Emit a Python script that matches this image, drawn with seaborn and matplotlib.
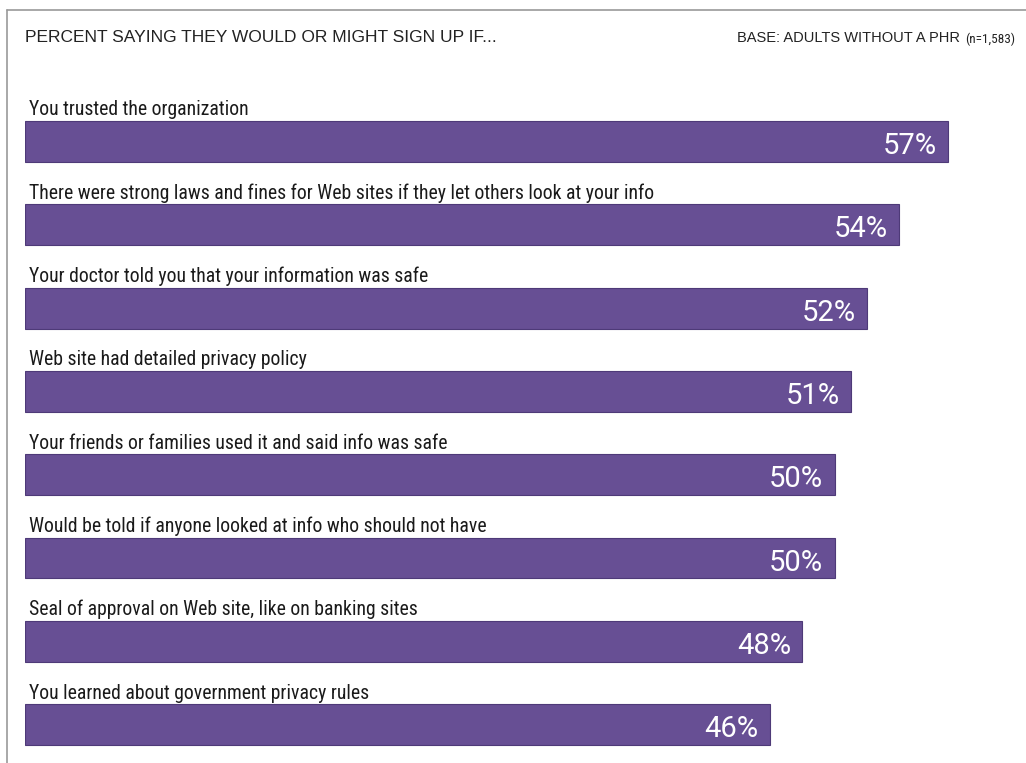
import matplotlib
matplotlib.use("Agg")
import matplotlib.pyplot as plt
import seaborn as sns
import pandas as pd
from matplotlib.lines import Line2D

# data
statements = [
    "You trusted the organization",
    "There were strong laws and fines for Web sites if they let others look at your info",
    "Your doctor told you that your information was safe",
    "Web site had detailed privacy policy",
    "Your friends or families used it and said info was safe",
    "Would be told if anyone looked at info who should not have",
    "Seal of approval on Web site, like on banking sites",
    "You learned about government privacy rules",
]
percents = [57, 54, 52, 51, 50, 50, 48, 46]
title_left = "PERCENT SAYING THEY WOULD OR MIGHT SIGN UP IF..."
title_right = "BASE: ADULTS WITHOUT A PHR"
base_n = "(n=1,583)"

sns.set_theme(style="white")
plt.rcParams['font.family'] = ['Roboto Condensed', 'Roboto', 'DejaVu Sans']
plt.rcParams['font.stretch'] = 'condensed'
wide = ['Liberation Sans', 'DejaVu Sans']

W, H = 1026, 763
fig = plt.figure(figsize=(W / 100, H / 100), dpi=100)
fig.patch.set_facecolor("white")

# axes spans full height; limits chosen so bars land where they are in the picture
ax = fig.add_axes([25 / W, 0, 975 / W, 1])
df = pd.DataFrame({"statement": statements, "pct": percents})
bar_color = "#674f94"
sns.barplot(data=df, x="pct", y="statement", orient="h", color=bar_color,
            width=0.49, edgecolor="#4e3a78", linewidth=0.8, saturation=1, ax=ax)

step = 83.3
first = 141.5
ax.set_xlim(0, 975 / (923 / 57))
ax.set_ylim((H - first) / step, -first / step)
ax.axis("off")

for i, (s, p) in enumerate(zip(statements, percents)):
    ax.text(0.25, i - 0.245 - 0.02, s, ha="left", va="bottom", fontsize=14.2,
            color="#1a1a1a")
    ax.text(p - 0.7, i + 0.055, f"{p}%", ha="right", va="center", fontsize=21,
            family=['Roboto', 'DejaVu Sans'], stretch='normal', color="white")

# header texts
fig.text(25 / W, 1 - 37 / H, title_left, ha="left", va="center", fontsize=12.5,
         family=wide, stretch='normal', color="#222222")
fig.text(1015 / W, 1 - 39 / H, base_n, ha="right", va="center", fontsize=9.5,
         color="#222222")
fig.text(960 / W, 1 - 38 / H, title_right, ha="right", va="center", fontsize=10.5,
         family=wide, stretch='normal', color="#222222")

# thin frame on top and left
fig.add_artist(Line2D([7 / W, 1], [1 - 10 / H, 1 - 10 / H], color="#999999", lw=1.2))
fig.add_artist(Line2D([7 / W, 7 / W], [0, 1 - 10 / H], color="#999999", lw=1.2))

fig.savefig("out.png", dpi=100, facecolor="white")
